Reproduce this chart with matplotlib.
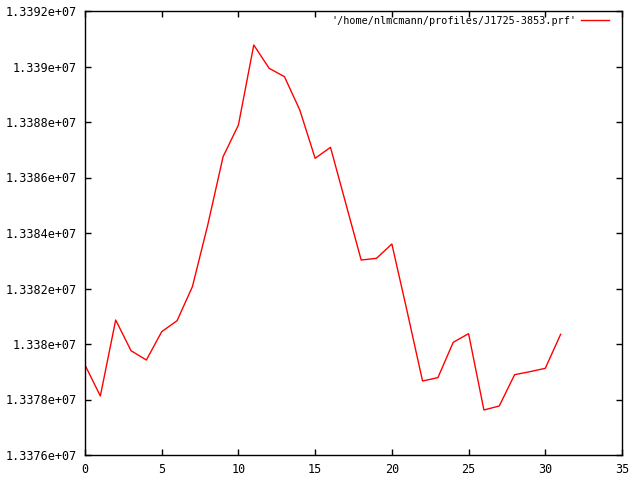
import matplotlib
matplotlib.use("Agg")
import matplotlib.pyplot as plt
from matplotlib.ticker import MultipleLocator, FormatStrFormatter

# profile values (gnuplot output)
bins = list(range(32))
values = [
    13379243, 13378126, 13380865, 13379759, 13379423, 13380444, 13380840, 13382065,
    13384288, 13386750, 13387892, 13390775, 13389935, 13389633, 13388432, 13386691,
    13387088, 13385056, 13383027, 13383087, 13383604, 13381165, 13378667, 13378787,
    13380061, 13380372, 13377622, 13377766, 13378894, 13379003, 13379123, 13380348,
]
label = "'/home/nlmcmann/profiles/J1725-3853.prf'"

plt.rcParams['font.family'] = ['DejaVu Sans Mono']

fig = plt.figure(figsize=(6.4, 4.8), dpi=100)
ax = fig.add_axes([85 / 640, 25 / 480, 537 / 640, 444 / 480])

ax.plot(bins, values, color='red', linewidth=1, label=label)

ax.set_xlim(0, 35)
ax.set_ylim(13376000, 13392000)
ax.xaxis.set_major_locator(MultipleLocator(5))
ax.yaxis.set_major_locator(MultipleLocator(2000))
ax.yaxis.set_major_formatter(FormatStrFormatter('%g'))
ax.tick_params(direction='in', length=4, width=1, top=True, right=True,
               labelsize=8.5, pad=6, color='black')
for s in ax.spines.values():
    s.set_linewidth(1)

ax.legend(loc='upper right', bbox_to_anchor=(0.978, 0.991), frameon=False,
          markerfirst=False, fontsize=7.3, handlelength=2.8, handletextpad=0.4,
          borderaxespad=0, borderpad=0.1)

fig.savefig('out.png', dpi=100)
